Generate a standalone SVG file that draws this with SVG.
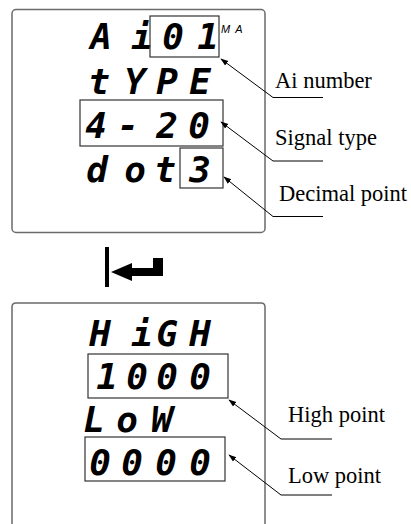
<svg xmlns="http://www.w3.org/2000/svg" width="411" height="524" viewBox="0 0 411 524">
<style>
.panel{fill:none;stroke:#6a6a6a;stroke-width:1.5}
.frame{fill:none;stroke:#333;stroke-width:1.2}
.lcd{font-family:"DejaVu Sans Mono",monospace;font-weight:bold;font-style:italic;font-size:36px;fill:#000;text-anchor:middle}
.lbl{font-family:"Liberation Serif","Times New Roman",serif;font-size:22.5px;fill:#000}
.lead{fill:none;stroke:#000;stroke-width:1}
.unit{font-family:"Liberation Sans",Arial,sans-serif;font-style:italic;font-size:11px;fill:#000;letter-spacing:5px}
</style>
<defs>
<marker id="ah" viewBox="0 0 10 10" refX="1" refY="5" markerWidth="8" markerHeight="8" markerUnits="userSpaceOnUse" orient="auto">
<path d="M0,5 L10,1.5 L10,8.5 Z" fill="#000"/>
</marker>
</defs>
<g id="panel-top">
<rect class="panel" x="12" y="9.5" width="253" height="223" rx="4"/>
<text class="lcd" x="101 142 173 208" y="49">Ai01</text>
<text class="unit" x="221" y="33">MA</text>
<rect class="frame" x="150" y="16" width="69" height="41"/>
<text class="lcd" x="99 135 167 200" y="94">tYPE</text>
<rect class="frame" x="80" y="100" width="143" height="46"/>
<text class="lcd" x="96 128 167 199" y="138">4-20</text>
<text class="lcd" x="97 135 165 200" y="182">dot3</text>
<rect class="frame" x="180" y="148" width="43" height="40"/>
</g>
<g id="enter-key">
<rect x="105" y="247" width="4" height="40" fill="#000"/>
<path d="M111,272 L132,263 L132,268 L153,268 L153,258 L163,258 L163,276 L132,276 L132,281 Z" fill="#000"/>
</g>
<g id="panel-bottom">
<path class="panel" d="M12,530 L12,307 Q12,303 16,303 L261,303 Q265,303 265,307 L265,530"/>
<text class="lcd" x="100 142 167 200" y="346">HiGH</text>
<rect class="frame" x="88" y="354" width="140" height="44"/>
<text class="lcd" x="107 137 167 200" y="389">1000</text>
<text class="lcd" x="94 127 162" y="432">LoW</text>
<rect class="frame" x="85" y="437" width="140" height="44"/>
<text class="lcd" x="100 132 166 200" y="475">0000</text>
</g>
<g id="labels">
<text class="lbl" x="275" y="88">Ai number</text>
<text class="lbl" x="275" y="145">Signal type</text>
<text class="lbl" x="279" y="201">Decimal point</text>
<text class="lbl" x="288" y="422">High point</text>
<text class="lbl" x="288" y="483">Low point</text>
</g>
<g id="connectors">
<path class="lead" marker-start="url(#ah)" d="M221,59 L273,97.5 L323,97.5"/>
<path class="lead" marker-start="url(#ah)" d="M221,122 L273,161 L323,161"/>
<path class="lead" marker-start="url(#ah)" d="M224,177 L273,216.5 L323,216.5"/>
<path class="lead" marker-start="url(#ah)" d="M229,400 L281,439 L332,439"/>
<path class="lead" marker-start="url(#ah)" d="M229,455 L281,495 L332,495"/>
</g>
</svg>
